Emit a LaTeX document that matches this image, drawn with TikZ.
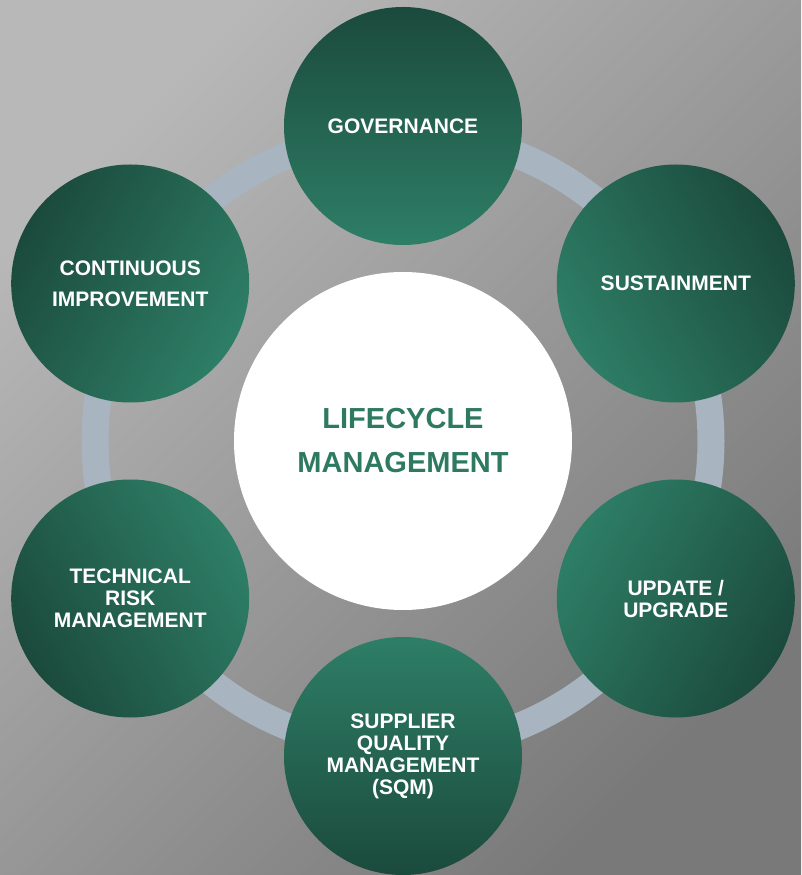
\documentclass[tikz,border=0pt]{standalone}
\usepackage{fontspec}
\setmainfont{Liberation Sans}
\usetikzlibrary{shapes,positioning}
\definecolor{phasedark}{HTML}{1B4A3C}
\definecolor{phaselight}{HTML}{2E7E66}
\definecolor{ringgray}{HTML}{A8B4BF}
\definecolor{titlegreen}{HTML}{2E7A60}
\definecolor{bglight}{HTML}{B8B8B8}
\definecolor{bgdark}{HTML}{797979}

\begin{document}
\begin{tikzpicture}[x=1pt,y=1pt,
                    phase/.style={circle,inner sep=0pt,minimum size=238pt,
                      top color=phasedark,bottom color=phaselight,
                      text=white,align=center,
                      font=\fontsize{21}{22}\selectfont\bfseries}]

        % background and ring
        \fill[top color=bglight,bottom color=bgdark,shading angle=45]
             (-403,-434) rectangle (398,441);
        \useasboundingbox (-403,-434) rectangle (398,441);
        \draw[ringgray,line width=27pt] (0,0) circle (308);

        \node[circle,fill=white,minimum size=338pt,inner sep=0pt,
              text=titlegreen,align=center,
              font=\fontsize{29}{44}\selectfont\bfseries] (life) at (0,0)
              {LIFECYCLE\\MANAGEMENT};

        \node[phase,shading angle=0] (gov) at (90:315) {GOVERNANCE};
        \node[phase,shading angle=-60] (sus) at (30:315) {SUSTAINMENT};
        \node[phase,shading angle=-120] (upd) at (-30:315)
              {UPDATE /\\UPGRADE};
        \node[phase,shading angle=-180] (sqm) at (-90:315)
              {SUPPLIER\\QUALITY\\MANAGEMENT\\(SQM)};
        \node[phase,shading angle=120] (risk) at (210:315)
              {TECHNICAL\\RISK\\MANAGEMENT};
        \node[phase,shading angle=60] (ci) at (150:315)
              {CONTINUOUS\\[9pt]IMPROVEMENT};
      \end{tikzpicture}
\end{document}
